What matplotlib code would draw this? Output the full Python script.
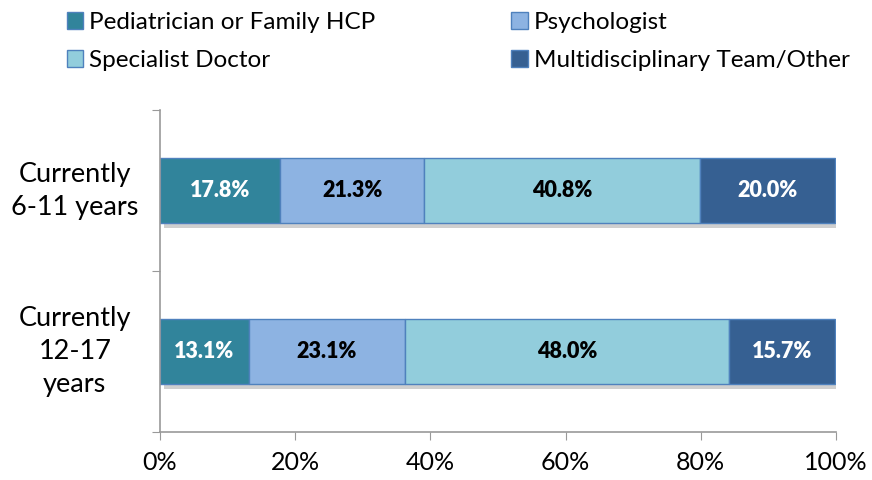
import numpy as np
import matplotlib.pyplot as plt
import matplotlib.patheffects as pe
from matplotlib.patches import Patch

groups = ["Currently\n6-11 years", "Currently\n12-17\nyears"]
series = ["Pediatrician or Family HCP", "Psychologist", "Specialist Doctor", "Multidisciplinary Team/Other"]
values = [
    [17.8, 13.1],
    [21.3, 23.1],
    [40.8, 48.0],
    [20.0, 15.7],
]
colors = ["#31849B", "#8DB3E2", "#92CDDC", "#366092"]
text_colors = ["white", "black", "black", "white"]

plt.rcParams["font.family"] = ["Lato", "DejaVu Sans"]

fig = plt.figure(figsize=(8.72, 4.8), dpi=100)
ax = fig.add_axes([160 / 872, 1 - 432 / 480, 676 / 872, 322 / 480])

ypos = np.array([1.5, 0.5])
left = np.zeros(len(groups))
shadow = [pe.SimplePatchShadow(offset=(3, -4), shadow_rgbFace="#888888", alpha=0.4), pe.Normal()]
for i, name in enumerate(series):
    vals = np.array(values[i])
    b = ax.barh(ypos, vals, left=left, height=0.4, color=colors[i], edgecolor="#4F81BD",
                linewidth=1.0)
    for p in b.patches:
        p.set_path_effects(shadow)
    for y, l, v in zip(ypos, left, vals):
        ax.text(l + v / 2, y, f"{v:.1f}%", ha="center", va="center", fontsize=15.5,
                fontweight="heavy", color=text_colors[i])
    left += vals

ax.set_xlim(0, 100)
ax.set_ylim(0, 2)
ax.set_xticks(np.arange(0, 101, 20))
ax.set_xticklabels([f"{t}%" for t in range(0, 101, 20)], fontsize=18)
ax.set_yticks([0, 1, 2])
ax.set_yticklabels([])
ax.tick_params(axis="x", length=6, color="#999999", pad=8)
ax.tick_params(axis="y", length=6, color="#999999")
for y, g in zip(ypos, groups):
    ax.text(-0.126, y, g, transform=ax.get_yaxis_transform(), ha="center", va="center",
            fontsize=19.5, linespacing=1.4)
for s in ["top", "right"]:
    ax.spines[s].set_visible(False)
for s in ["left", "bottom"]:
    ax.spines[s].set_color("#999999")
    ax.spines[s].set_linewidth(1.2)

order = [0, 2, 1, 3]
handles = [Patch(facecolor=colors[k], edgecolor="#4F81BD", linewidth=1.0) for k in order]
labels = [series[k] for k in order]
fig.legend(handles, labels, ncol=2, loc="upper left", bbox_to_anchor=(67 / 872, 1 - 12 / 480),
           frameon=False, fontsize=17.5, handlelength=0.66, handleheight=0.66,
           handletextpad=0.25, columnspacing=5.6, labelspacing=0.7,
           borderpad=0, borderaxespad=0)

fig.savefig("out.png", dpi=100)
